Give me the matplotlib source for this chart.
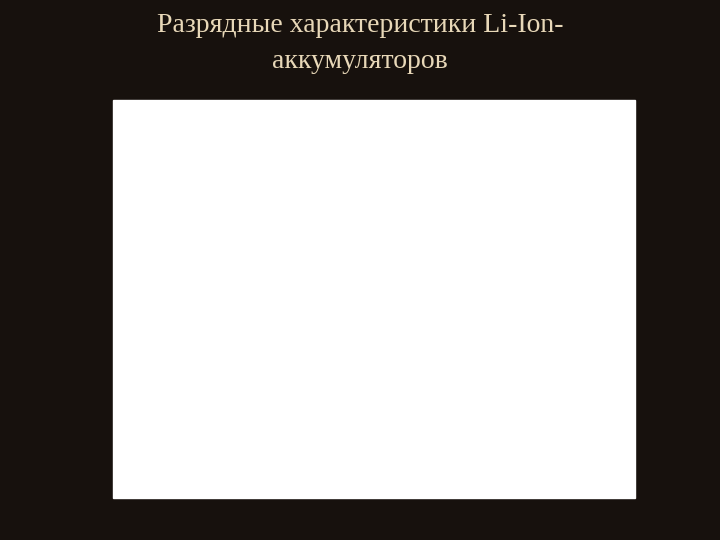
import matplotlib
matplotlib.use("Agg")
import matplotlib.pyplot as plt
from matplotlib.patches import Rectangle

x_20 = [0, 10, 20, 40, 60, 80, 100, 110, 116, 119, 121, 122.5, 123.5, 124.5, 125.2, 126]
y_20 = [4.12, 4.05, 3.98, 3.88, 3.80, 3.74, 3.71, 3.69, 3.67, 3.65, 3.61, 3.55, 3.45, 3.25, 3.00, 2.76]
x_50 = [0, 5, 20, 40, 60, 80, 100, 108, 113, 116, 118, 119.5, 120.5, 121.3, 122]
y_50 = [4.16, 4.10, 3.97, 3.84, 3.76, 3.71, 3.67, 3.64, 3.60, 3.56, 3.50, 3.42, 3.30, 3.05, 2.76]
x_m20 = [0, 2, 5, 10, 15, 20, 25, 30, 35, 40, 50, 60, 65, 70, 75, 80, 85, 90, 95, 99]
y_m20 = [4.12, 4.05, 3.97, 3.85, 3.78, 3.73, 3.69, 3.66, 3.64, 3.62, 3.59, 3.55, 3.52, 3.47, 3.42, 3.35, 3.23, 3.06, 2.89, 2.78]
x_m30 = [0, 1.5, 3, 5, 8, 12, 20, 40, 60, 70, 80, 85, 90, 93, 96]
y_m30 = [3.36, 3.28, 3.22, 3.17, 3.15, 3.145, 3.14, 3.13, 3.09, 3.05, 3.00, 2.96, 2.90, 2.85, 2.78]
xticks = [0, 20, 40, 60, 80, 100, 120, 140]
yticks = [2.50, 2.70, 2.90, 3.10, 3.30, 3.50, 3.70, 3.90, 4.10, 4.30]

fig = plt.figure(figsize=(7.2, 5.4), dpi=100)
fig.patch.set_facecolor('#17110d')
fig.patches.append(Rectangle((113/720, 1-498/540), (635-113)/720, (498-100)/540,
                             color='white', transform=fig.transFigure, figure=fig))
fig.text(0.5, 0.975, "Разрядные характеристики Li-Ion-\nаккумуляторов", ha='center', va='top',
         fontsize=20, family='Liberation Serif', color='#e8d8b8', linespacing=1.55)

ax = fig.add_axes([193/720, 1-437/540, 389/720, 317/540])
ax.set_facecolor('none')
ax.plot(x_20, y_20, color='#5a1f24', lw=1.6)
ax.plot(x_50, y_50, color='#e04a2a', lw=1.6)
ax.plot(x_m20, y_m20, color='#4a5ac0', lw=1.6)
ax.plot(x_m30, y_m30, color='#3a5ab8', lw=1.6)
ax.set_xlim(0, 140); ax.set_ylim(2.5, 4.3)
ax.set_xticks(xticks)
ax.set_yticks(yticks)
ax.set_yticklabels([f"{v:.2f}".replace('.', ',') for v in yticks])
for s in ['top', 'right']:
    ax.spines[s].set_visible(False)
for s in ['left', 'bottom']:
    ax.spines[s].set_color('#8a8aa0'); ax.spines[s].set_linewidth(1.5)
ax.tick_params(colors='#777777', labelsize=9.5, length=4, direction='in')
for t in ax.get_xticklabels() + ax.get_yticklabels():
    t.set_fontweight('bold'); t.set_color('#666666')
ax.set_ylabel("Напряжение, В", fontsize=11, fontweight='bold', color='#666666')
ax.text(139, 2.32, "Емкость, %", ha='right', va='center', fontsize=11, fontweight='bold', color='#666666')
ax.text(135, 2.88, "20C", color='#e04a2a', fontsize=9, fontweight='bold')
ax.text(110, 2.80, "50C", color='#e04a2a', fontsize=9, fontweight='bold')
ax.text(101, 2.63, "-20C", color='#4a5ac0', fontsize=9, fontweight='bold')
ax.text(75, 2.69, "-30C", color='#4a5ac0', fontsize=9, fontweight='bold')
fig.savefig("out.png", dpi=100, facecolor=fig.get_facecolor())
